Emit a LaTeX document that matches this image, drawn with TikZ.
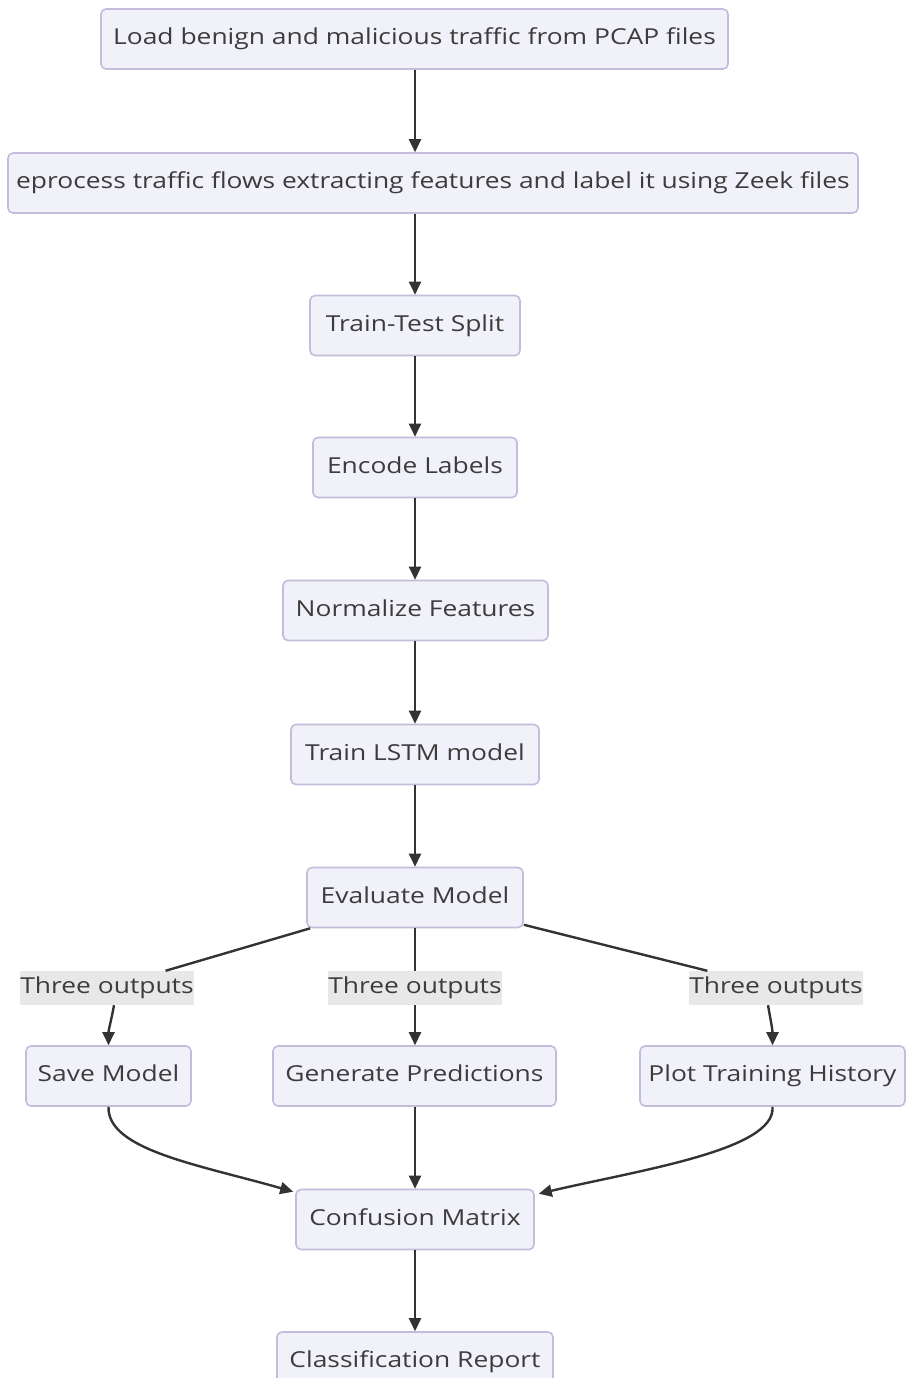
\documentclass[tikz,border=0pt]{standalone}
\usepackage{fontspec}
\setmainfont{Open Sans}[FakeStretch=1.2]
\usetikzlibrary{arrows.meta}
\definecolor{nodefill}{RGB}{241,241,249}
\definecolor{nodeline}{RGB}{196,188,218}
\definecolor{edgecol}{RGB}{51,51,51}
\definecolor{labfill}{RGB}{232,232,232}
\definecolor{txt}{RGB}{60,60,60}
\tikzset{
  box/.style={draw=nodeline, line width=1.6pt, fill=nodefill, rounded corners=5pt,
    minimum height=60pt, inner sep=0pt, text=txt, text height=16pt, text depth=5pt,
    font=\fontsize{22pt}{25pt}\selectfont},
  lab/.style={fill=labfill, minimum width=172pt, minimum height=34pt, inner sep=0pt,
    text=txt, text height=16pt, text depth=5pt, font=\fontsize{22pt}{25pt}\selectfont},
  arr/.style={draw=edgecol, line width=2.4pt, -{Triangle[length=13pt,width=12pt]}},
  ln/.style={draw=edgecol, line width=2.4pt}
}
\begin{document}
\begin{tikzpicture}[x=1pt,y=-1pt]
\useasboundingbox (0,0) rectangle (905,1378);
\node[box, minimum width=627pt] (load) at (414.5,39) {Load benign and malicious traffic from PCAP files};
\node[box, minimum width=850pt] (pre) at (433,183) {eprocess traffic flows extracting features and label it using Zeek files};
\node[box, minimum width=210pt] (tts) at (415,325.5) {Train-Test Split};
\node[box, minimum width=204pt] (enc) at (415,467.5) {Encode Labels};
\node[box, minimum width=265pt] (norm) at (415.5,610.5) {Normalize Features};
\node[box, minimum width=248pt] (lstm) at (415,754.5) {Train LSTM model};
\node[box, minimum width=216pt] (eval) at (415,897.5) {Evaluate Model};
\node[lab] (l1) at (107,988) {Three outputs};
\node[lab] (l2) at (415,988) {Three outputs};
\node[lab] (l3) at (776,988) {Three outputs};
\node[box, minimum width=165pt] (save) at (108.5,1076) {Save Model};
\node[box, minimum width=283pt] (gen) at (414.5,1076) {Generate Predictions};
\node[box, minimum width=265pt] (plot) at (772.5,1076) {Plot Training History};
\node[box, minimum width=238pt] (conf) at (415,1219.5) {Confusion Matrix};
\node[box, minimum width=276pt] (cls) at (415,1362) {Classification Report};

\draw[arr] (load.south -| tts.north) -- (tts.north |- pre.north);
\draw[arr] (tts.north |- pre.south) -- (tts.north);
\draw[arr] (tts) -- (enc);
\draw[arr] (enc) -- (norm.north -| enc.south);
\draw[arr] (norm.south -| lstm.north) -- (lstm);
\draw[arr] (lstm) -- (eval);
\draw[ln] (eval) -- (l1);
\draw[ln] (eval) -- (l2);
\draw[ln] (eval) -- (l3);
\draw[arr] (l1.south -| 114,0) to[out=-100,in=90] (save.north);
\draw[arr] (l2) -- (gen.north -| l2.south);
\draw[arr] (l3.south -| 768,0) to[out=-80,in=90] (plot.north);
\draw[arr] (save.south) .. controls (107,1150) and (200,1165) .. ([xshift=-2pt,yshift=-3pt]conf.north west);
\draw[arr] (gen.south -| conf.north) -- (conf);
\draw[arr] (plot.south) .. controls (776,1150) and (640,1170) .. ([xshift=4pt,yshift=-5pt]conf.north east);
\draw[arr] (conf) -- (cls);
\end{tikzpicture}
\end{document}
